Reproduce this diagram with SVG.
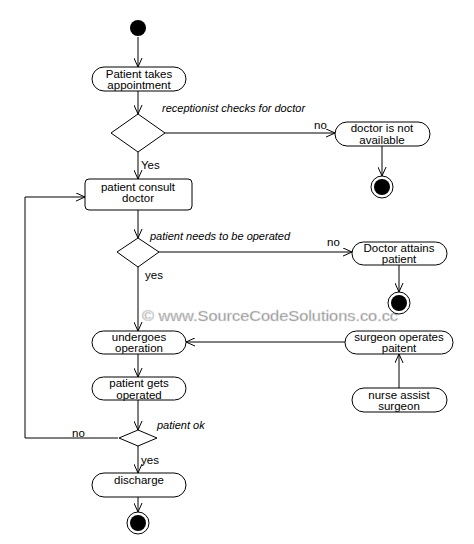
<svg xmlns="http://www.w3.org/2000/svg" width="474" height="544" viewBox="0 0 474 544">
<style>
.n{fill:#fff;stroke:#000;stroke-width:1}
.t{font-family:"Liberation Sans",Arial,sans-serif;font-size:11.5px;fill:#000;text-anchor:middle}
.l{font-family:"Liberation Sans",Arial,sans-serif;font-size:11.5px;fill:#000}
.i{font-family:"Liberation Sans",Arial,sans-serif;font-size:11px;font-style:italic;fill:#000}
.c line,.c path{stroke:#000;stroke-width:1;fill:none;marker-end:url(#a)}
</style>
<defs>
<marker id="a" viewBox="0 0 10 10" refX="10" refY="5" markerWidth="9" markerHeight="9" markerUnits="userSpaceOnUse" orient="auto"><path d="M0,0.5 L10,5 L0,9.5" fill="none" stroke="#000" stroke-width="1.1"/></marker>
</defs>
<rect width="474" height="544" fill="#fff"/>
<g class="c" id="connectors">
<line x1="138" y1="37" x2="138" y2="67"/>
<line x1="138" y1="91" x2="138" y2="114"/>
<line x1="165" y1="133" x2="335" y2="133"/>
<line x1="382" y1="146" x2="382" y2="176"/>
<line x1="138" y1="152" x2="138" y2="179"/>
<line x1="138" y1="210" x2="138" y2="238"/>
<line x1="159" y1="252" x2="352" y2="252"/>
<line x1="399" y1="265" x2="399" y2="292"/>
<line x1="138" y1="267" x2="138" y2="331"/>
<line x1="345" y1="342" x2="186" y2="342"/>
<line x1="399" y1="388" x2="399" y2="354"/>
<line x1="138" y1="354" x2="138" y2="377"/>
<line x1="138" y1="400" x2="138" y2="430"/>
<path d="M118,438 H25 V197 H85"/>
<line x1="138" y1="446" x2="138" y2="473"/>
<line x1="138" y1="497" x2="138" y2="512"/>
</g>
<text x="142" y="321" font-family="Liberation Sans,Arial,sans-serif" font-size="15.5" fill="#7a7a7a" stroke="#d8d8d8" stroke-width="0.6" textLength="256" lengthAdjust="spacingAndGlyphs">© www.SourceCodeSolutions.co.cc</text>
<g id="start"><circle cx="138" cy="28" r="8" fill="#000"/></g>
<g id="takes"><rect class="n" x="92" y="67" width="94" height="24" rx="12"/><text class="t" x="139" y="77.5">Patient takes</text><text class="t" x="139" y="88.5">appointment</text></g>
<g id="d1"><polygon class="n" points="138,114 165,133 138,152 111,133"/><text class="i" x="162" y="112">receptionist checks for doctor</text></g>
<g id="notavail"><rect class="n" x="335" y="122" width="95" height="24" rx="12"/><text class="t" x="382" y="132">doctor is not</text><text class="t" x="382" y="143.5">available</text></g>
<g id="end1"><circle cx="382" cy="187" r="11" fill="#fff" stroke="#000"/><circle cx="382" cy="187" r="8" fill="#000"/></g>
<g id="consult"><rect class="n" x="85" y="179" width="107" height="31" rx="4"/><text class="t" x="138" y="190.5">patient consult</text><text class="t" x="138" y="202">doctor</text></g>
<g id="d2"><polygon class="n" points="138,238 159,252 138,267 117,252"/><text class="i" x="150" y="240">patient needs to be operated</text></g>
<g id="attains"><rect class="n" x="352" y="242" width="95" height="23" rx="11.5"/><text class="t" x="399" y="252">Doctor attains</text><text class="t" x="399" y="263">patient</text></g>
<g id="end2"><circle cx="399" cy="303" r="11" fill="#fff" stroke="#000"/><circle cx="399" cy="303" r="8" fill="#000"/></g>
<g id="undergoes"><rect class="n" x="92" y="331" width="94" height="23" rx="11.5"/><text class="t" x="139" y="341">undergoes</text><text class="t" x="139" y="352">operation</text></g>
<g id="surgeon"><rect class="n" x="345" y="331" width="108" height="23" rx="11.5"/><text class="t" x="399" y="341">surgeon operates</text><text class="t" x="399" y="352">paitent</text></g>
<g id="nurse"><rect class="n" x="352" y="388" width="95" height="24" rx="12"/><text class="t" x="399" y="398.5">nurse assist</text><text class="t" x="399" y="410">surgeon</text></g>
<g id="gets"><rect class="n" x="92" y="377" width="94" height="23" rx="11.5"/><text class="t" x="139" y="387">patient gets</text><text class="t" x="139" y="398.5">operated</text></g>
<g id="d3"><polygon class="n" points="138,430 157,438 138,446 119,438"/><text class="i" x="157" y="429">patient ok</text></g>
<g id="discharge"><rect class="n" x="92" y="473" width="94" height="24" rx="12"/><text class="t" x="139" y="484">discharge</text></g>
<g id="end3"><circle cx="138" cy="523" r="11" fill="#fff" stroke="#000"/><circle cx="138" cy="523" r="8" fill="#000"/></g>
<g id="labels">
<text class="l" x="314" y="129">no</text>
<text class="l" x="141" y="169">Yes</text>
<text class="l" x="327" y="246">no</text>
<text class="l" x="145" y="279">yes</text>
<text class="l" x="72" y="437">no</text>
<text class="l" x="141" y="464">yes</text>
</g>
</svg>
